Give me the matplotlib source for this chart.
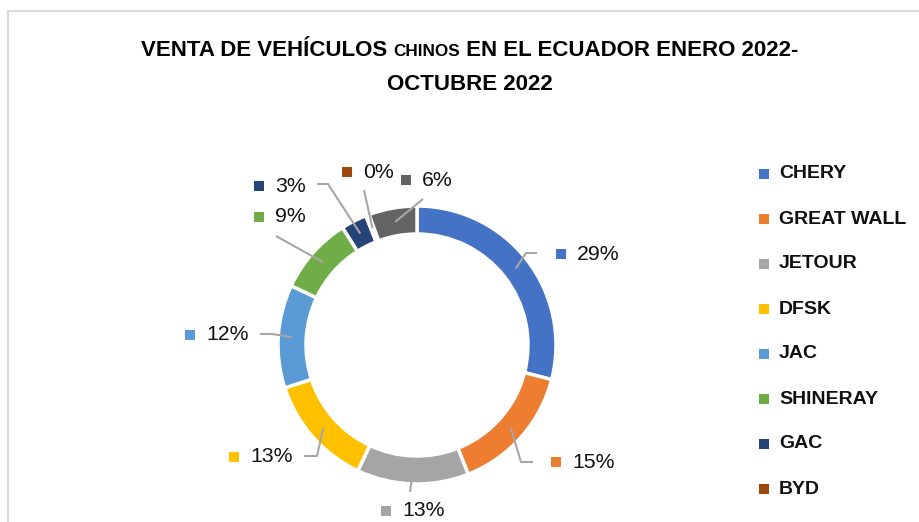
import numpy as np
import matplotlib.pyplot as plt

W, H = 920, 522

marcas = ['CHERY', 'GREAT WALL', 'JETOUR', 'DFSK', 'JAC', 'SHINERAY', 'GAC', 'BYD', 'OTROS']
porcentajes = [29, 15, 13, 13, 12, 9, 3, 0.4, 5.6]
etiquetas = ['29%', '15%', '13%', '13%', '12%', '9%', '3%', '0%', '6%']
colores = ['#4472c4', '#ed7d31', '#a5a5a5', '#ffc000', '#5b9bd5',
           '#70ad47', '#264478', '#9e480e', '#636363']

# layout (pixels from top-left): label square position and leader elbow
pos_label = [(561, 254), (556, 462), (386, 511), (234, 457), (190, 335),
             (259, 217), (259, 186), (347, 172), (406, 180)]
codo = [[(526, 253), (537, 253)], [(521, 462), (533, 462)], [(410, 492)],
        [(317, 456), (304, 456)], [(272, 334), (260, 334)], [(276, 236)],
        [(328, 184), (317, 184)], [(364, 190)], [(423, 199)]]

plt.rcParams['font.family'] = 'Liberation Sans'

fig = plt.figure(figsize=(W / 100, H / 100), dpi=100, facecolor='white')
ax = fig.add_axes([0, 0, 1, 1])

cx, cy, R, ancho = 417, 345, 139, 28
wedges, _ = ax.pie(porcentajes, colors=colores, startangle=90, counterclock=False,
                   radius=R, center=(cx, H - cy),
                   wedgeprops=dict(width=ancho, edgecolor='white', linewidth=2.5))
ax.set_xlim(0, W)
ax.set_ylim(0, H)
ax.set_aspect('auto')
ax.axis('off')

# leader lines and labels
for w, lab, (mx, my), pts, c in zip(wedges, etiquetas, pos_label, codo, colores):
    ang = np.deg2rad((w.theta1 + w.theta2) / 2)
    r = R - ancho / 2
    xs = [cx + r * np.cos(ang)] + [p[0] for p in pts]
    ys = [H - cy + r * np.sin(ang)] + [H - p[1] for p in pts]
    ax.plot(xs, ys, color='#a6a6a6', lw=1.5, solid_capstyle='butt')
    ax.scatter(mx, H - my, marker='s', s=42, color=c, linewidths=0)
    ax.text(mx + 16, H - my, lab, fontsize=15.3, va='center', ha='left', color='#111111')

# legend
for i, (m, c) in enumerate(zip(marcas[:8], colores[:8])):
    y = 174 + 45 * i
    ax.scatter(764, H - y, marker='s', s=42, color=c, linewidths=0)
    ax.text(779, H - y, m, fontsize=14, fontweight='bold', va='center', ha='left',
            color='#111111')

# border
ax.plot([8, 8, W], [0, H - 11, H - 11], color='#d9d9d9', lw=1.5)

# title, "CHINOS" in smaller caps
partes = [('VENTA DE VEHÍCULOS ', 16), ('CHINOS', 12.3), (' EN EL ECUADOR ENERO 2022-', 16)]
textos = [ax.text(0, H - 56, t, fontsize=s, fontweight='bold',
                  va='baseline', ha='left') for t, s in partes]
fig.canvas.draw()
r = fig.canvas.get_renderer()
anchos = [t.get_window_extent(r).width for t in textos]
x0 = 470 - sum(anchos) / 2
for t, a in zip(textos, anchos):
    t.set_x(x0)
    x0 += a
ax.text(470, H - 90, 'OCTUBRE 2022', fontsize=16, fontweight='bold',
        va='baseline', ha='center')

fig.savefig('out.png', dpi=100, facecolor='white')
